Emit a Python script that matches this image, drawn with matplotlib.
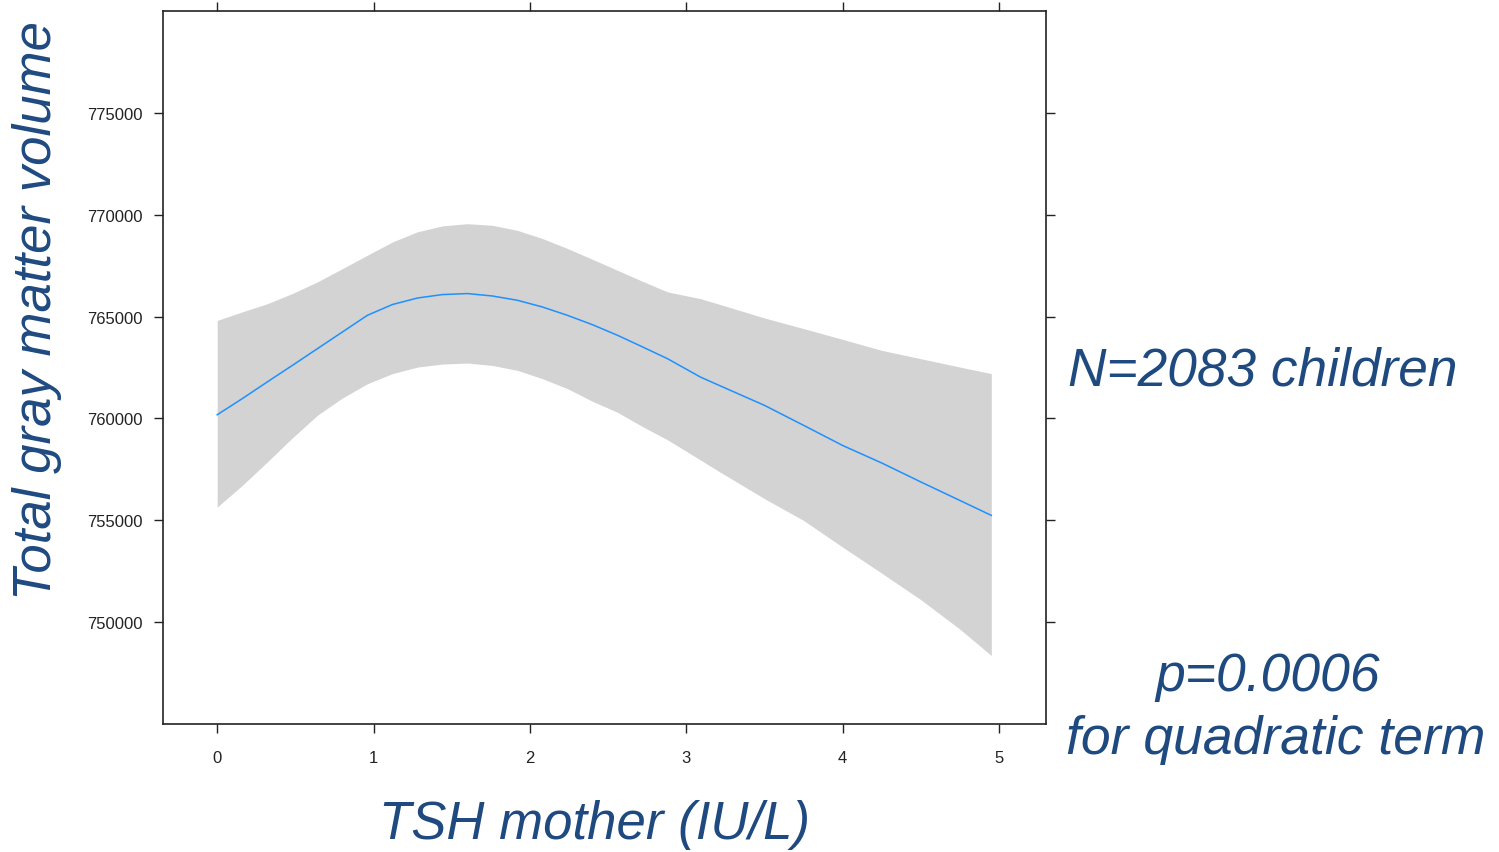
import matplotlib
matplotlib.use("Agg")
import matplotlib.pyplot as plt

tsh = [0.0, 0.16, 0.32, 0.48, 0.64, 0.80, 0.96, 1.12, 1.28, 1.44, 1.60, 1.76, 1.92, 2.08, 2.24,
       2.40, 2.56, 2.72, 2.88, 3.09, 3.2, 3.5, 3.75, 4.0, 4.25, 4.5, 4.75, 4.95]
fit = [760180, 760970, 761790, 762600, 763420, 764240, 765060, 765590, 765910, 766080, 766130,
       766010, 765800, 765470, 765060, 764600, 764080, 763510, 762930, 762030,
       761655, 760640, 759660, 758670, 757810, 756880, 755970, 755240]
upper = [764810, 765230, 765630, 766130, 766700, 767350, 768010, 768660, 769160, 769450, 769560,
         769480, 769230, 768830, 768340, 767810, 767270, 766730, 766210, 765880,
         765630, 764930, 764410, 763880, 763340, 762930, 762520, 762200]
lower = [755650, 756710, 757860, 759040, 760150, 761000, 761700, 762200, 762520, 762670, 762720,
         762600, 762360, 761950, 761460, 760840, 760300, 759600, 758950, 757960,
         757440, 756060, 754990, 753680, 752400, 751100, 749650, 748360]

xticks = [0, 1, 2, 3, 4, 5]
yticks = [750000, 755000, 760000, 765000, 770000, 775000]

txt_color = "#1F4A80"
plt.rcParams['font.family'] = ['Liberation Sans', 'DejaVu Sans']

fig = plt.figure(figsize=(14.99, 8.53), dpi=100)
ax = fig.add_axes([163/1499, 1 - 725/853, (1045.5 - 163)/1499, (725 - 12)/853])

ax.fill_between(tsh, lower, upper, color="#D3D3D3", linewidth=0)
ax.plot(tsh, fit, color="#1E90FF", linewidth=1.1)

ax.set_xlim(-0.3465, 5.2965)
ax.set_ylim(745000, 780000)
ax.set_xticks(xticks)
ax.set_yticks(yticks)
ax.set_xticklabels([str(v) for v in xticks])
ax.set_yticklabels([str(v) for v in yticks])
ax.tick_params(axis='both', which='both', direction='out', length=6.5, width=1,
               top=True, right=True, labelsize=12, colors='#222222')
ax.tick_params(axis='x', pad=12)
ax.tick_params(axis='y', pad=8)
for s in ax.spines.values():
    s.set_linewidth(1.2)
    s.set_color('#222222')

fig.text(37/1499, 1 - 311/853, "Total gray matter volume", rotation=90, style='italic',
         fontsize=38, color=txt_color, ha='center', va='center')
fig.text(595/1499, 1 - 825/853, "TSH mother (IU/L)", style='italic',
         fontsize=38, color=txt_color, ha='center', va='center')
fig.text(1068/1499, 1 - 372/853, "N=2083 children", style='italic',
         fontsize=38.3, color=txt_color, ha='left', va='center')
fig.text(1268/1499, 1 - 677/853, "p=0.0006", style='italic',
         fontsize=38.5, color=txt_color, ha='center', va='center')
fig.text(1276/1499, 1 - 740/853, "for quadratic term", style='italic',
         fontsize=38.5, color=txt_color, ha='center', va='center')

fig.savefig("out.png", dpi=100)
